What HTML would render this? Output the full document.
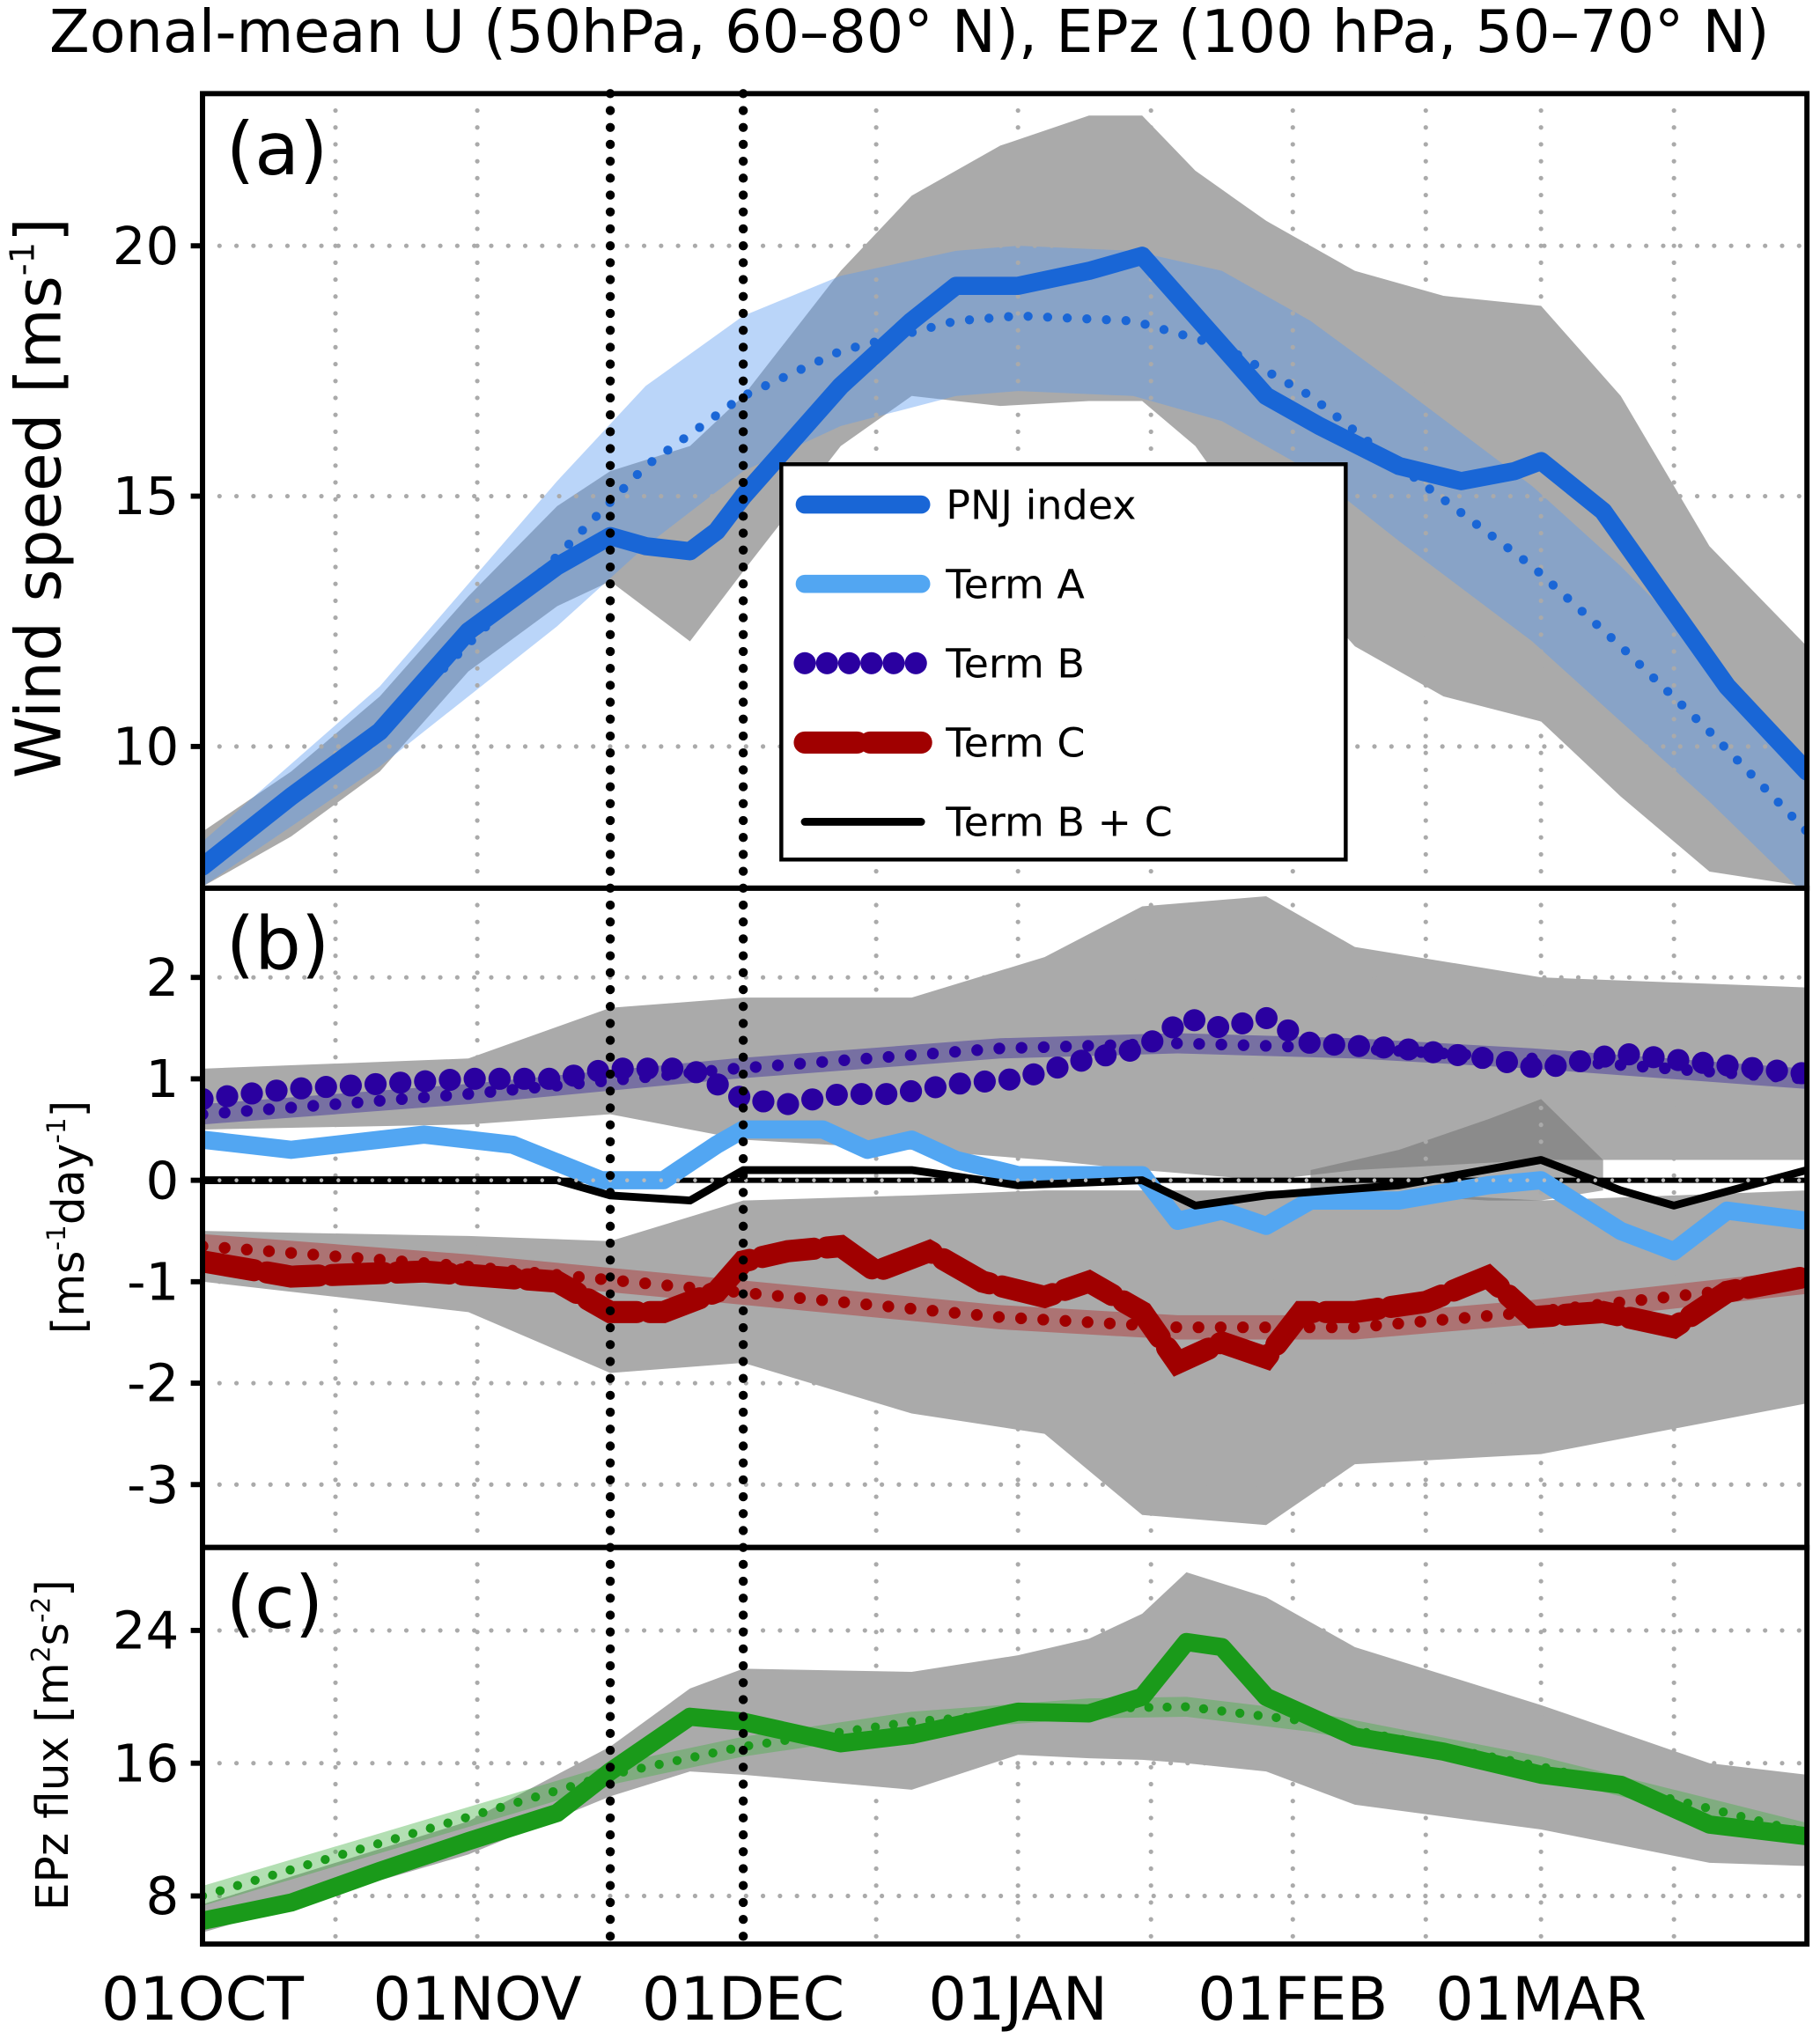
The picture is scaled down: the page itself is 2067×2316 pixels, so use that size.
<!DOCTYPE html>
<html><head><meta charset="utf-8"><style>
html,body{margin:0;padding:0;background:#fff;}
svg{display:block;font-family:"DejaVu Sans","Liberation Sans",sans-serif;}
</style></head><body>
<svg id="chart" width="2067" height="2316" viewBox="0 0 1393 1568" preserveAspectRatio="none" xmlns="http://www.w3.org/2000/svg">
<rect x="0" y="0" width="1393" height="1568" fill="#fff"/>
<text x="696" y="40" font-size="45" text-anchor="middle" fill="#000">Zonal-mean U (50hPa, 60–80° N), EPz (100 hPa, 50–70° N)</text>
<g id="layer"></g>
</svg>
<script>
// ---------- data ----------
const gridDays = [15,31,46,61,76,92,107,123,138,151,166];
const monthLabels = ["01OCT","01NOV","01DEC","01JAN","01FEB","01MAR"];
const monthDays = [0,31,61,92,123,151];
const eventDays = [46,61];

// panel a
const pnjDays = [0,10,20,30,40,46,50,55,58,61,66,72,80,85,92,100,106,112,120,126,135,142,148,151,158,166,172,181];
const pnjVals = [7.6,9.0,10.3,12.3,13.6,14.2,14.0,13.9,14.3,15.0,16.0,17.2,18.5,19.2,19.2,19.5,19.8,18.6,17.0,16.4,15.6,15.3,15.5,15.7,14.7,12.7,11.2,9.5];
const climDays = [0,20,40,50,61,72,85,92,105,115,125,135,150,160,170,181];
const climVals = [7.6,10.3,13.8,15.6,17.0,17.9,18.5,18.6,18.5,18.0,17.0,15.6,13.6,12.0,10.3,8.3];
const climUpper = [8.1,11.2,15.3,17.2,18.6,19.4,19.9,20.0,19.9,19.5,18.5,17.2,15.2,13.6,11.8,9.6];
const climLower = [7.2,9.6,12.4,14.0,15.5,16.4,17.0,17.1,17.0,16.5,15.5,14.1,12.1,10.5,8.9,7.0];
const grayADays = [0,10,20,30,40,46,55,61,72,80,90,100,106,112,120,130,140,151,160,170,181];
const grayAUp = [8.3,9.5,11,13,14.8,15.5,16,17,19.5,21,22,22.6,22.6,21.5,20.5,19.5,19,18.8,17,14,12];
const grayALo = [7.2,8.2,9.5,11.5,12.8,13.3,12.1,13.5,16,17,16.8,16.9,16.9,16,14,12,11,10.5,9,7.5,7.2];

// panel b
const bDays = [0,10,20,30,40,46,55,61,66,72,78,85,92,100,106,111,115,120,125,135,145,151,160,170,181];
const termB = [0.8,0.9,0.95,1.0,1.0,1.1,1.1,0.8,0.75,0.85,0.85,0.95,1.0,1.2,1.3,1.6,1.5,1.6,1.35,1.3,1.2,1.1,1.25,1.15,1.05];
const aDays = [0,10,25,35,45,52,58,61,70,75,80,85,92,100,106,110,115,120,125,135,145,151,160,166,172,181];
const termA = [0.4,0.3,0.45,0.35,0.0,0.0,0.35,0.5,0.5,0.3,0.4,0.2,0.05,0.05,0.05,-0.4,-0.3,-0.45,-0.2,-0.2,-0.05,0.0,-0.5,-0.7,-0.3,-0.4];
const bcDays = [0,20,40,46,55,61,80,92,106,112,120,135,151,160,166,181];
const termBC = [0,0.0,0.0,-0.15,-0.2,0.1,0.1,-0.05,0.0,-0.25,-0.15,-0.05,0.2,-0.1,-0.25,0.1];
const cDays = [0,10,25,40,46,52,58,61,66,72,76,82,88,95,100,106,110,115,120,124,130,138,145,150,158,166,172,181];
const termC = [-0.8,-0.95,-0.9,-1.0,-1.3,-1.3,-1.1,-0.8,-0.7,-0.65,-0.9,-0.7,-1.0,-1.15,-1.0,-1.3,-1.8,-1.6,-1.75,-1.3,-1.3,-1.2,-0.95,-1.35,-1.3,-1.45,-1.1,-0.95];
const climBDays = [0,30,60,90,110,130,150,181];
const climB = [0.65,0.85,1.1,1.3,1.35,1.3,1.2,1.0];
const climC = [-0.65,-0.85,-1.1,-1.35,-1.45,-1.45,-1.3,-1.0];
const grayBDays = [0,30,46,61,80,95,106,120,130,151,181];
const grayB1Up = [1.1,1.2,1.7,1.8,1.8,2.2,2.7,2.8,2.3,2.0,1.9];
const grayB1Lo = [0.5,0.55,0.65,0.4,0.3,0.2,0.1,0.0,0.1,0.2,0.2];
const grayB2Up = [-0.5,-0.55,-0.6,-0.2,-0.15,-0.1,-0.1,-0.1,-0.1,-0.2,-0.1];
const grayB2Lo = [-1.0,-1.3,-1.9,-1.8,-2.3,-2.5,-3.3,-3.4,-2.8,-2.7,-2.2];
const darkDays = [125,135,145,151,158];
const darkUp = [0.1,0.3,0.6,0.8,0.2];
const darkLo = [-0.1,-0.15,-0.2,-0.2,-0.1];

// panel c
const gDays = [0,10,20,30,40,46,55,61,72,80,92,100,106,111,115,120,130,140,151,160,170,181];
const epz = [6.5,7.6,9.5,11.3,13,15.5,18.8,18.5,17.2,17.7,19.1,19.0,20.0,23.3,23.0,20.0,17.6,16.7,15.3,14.7,12.3,11.6];
const epzClimDays = [0,46,61,80,100,111,125,151,181];
const epzClim = [8,15.3,17,18.5,19.3,19.4,18.5,15.8,11.8];
const grayCDays = [0,30,46,55,61,80,92,100,106,111,120,130,151,170,181];
const grayCUp = [7.5,12.5,17,20.5,21.7,21.5,22.5,23.5,25,27.5,26,23,19.5,16,15.3];
const grayCLo = [5.8,10.5,14,15.5,15.3,14.4,16.5,16.3,16.2,16,15.5,13.5,12,10,9.8];

const yTicksA = [10,15,20], yTicksB = [-3,-2,-1,0,1,2], yTicksC = [8,16,24];

// ---------- layout ----------
const L=155,R=1383,D0=0,D1=181;
const X = d => L + (d-D0)/(D1-D0)*(R-L);
const P = {
 a:{top:72,bot:683,min:7.17,max:23.04},
 b:{top:683,bot:1190,min:-3.62,max:2.88},
 c:{top:1190,bot:1495,min:5.1,max:29.0}
};
const Y = (p,v) => P[p].bot - (v-P[p].min)/(P[p].max-P[p].min)*(P[p].bot-P[p].top);
const NS="http://www.w3.org/2000/svg";
const layer=document.getElementById('layer');
function mk(tag,attrs,parent){const e=document.createElementNS(NS,tag);for(const k in attrs)e.setAttribute(k,attrs[k]);(parent||layer).appendChild(e);return e;}
function linePath(p,days,vals){return days.map((d,i)=>(i?'L':'M')+X(d).toFixed(1)+','+Y(p,vals[i]).toFixed(1)).join('');}
function bandPath(p,days,up,lo){let s=linePath(p,days,up);for(let i=days.length-1;i>=0;i--)s+='L'+X(days[i]).toFixed(1)+','+Y(p,lo[i]).toFixed(1);return s+'Z';}

const defs=mk('defs',{});
['a','b','c'].forEach(p=>{const c=mk('clipPath',{id:'clip'+p},defs);mk('rect',{x:L,y:P[p].top,width:R-L,height:P[p].bot-P[p].top},c);});

function grid(p,ticks,g){
 const gg=mk('g',{},g);
 
 
 gridDays.forEach(d=>mk('line',{x1:X(d),x2:X(d),y1:P[p].top,y2:P[p].bot,stroke:'#aaa','stroke-width':3.5,'stroke-dasharray':'0 13','stroke-linecap':'round'},gg));
 ticks.forEach(t=>mk('line',{x1:L,x2:R,y1:Y(p,t),y2:Y(p,t),stroke:'#aaa','stroke-width':3.5,'stroke-dasharray':'0 13','stroke-linecap':'round'},gg));
}

// ===== Panel A =====
let g=mk('g',{'clip-path':'url(#clipa)'});
let e;
e=mk('path',{d:bandPath('a',grayADays,grayAUp,grayALo),fill:'#aaaaaa'},g);


e=mk('path',{d:bandPath('a',climDays,climUpper,climLower),fill:'#5b9cf0','fill-opacity':0.42},g);


grid('a',yTicksA,g);
e=mk('path',{d:linePath('a',climDays,climVals),fill:'none',stroke:'#1a66d6','stroke-width':7,'stroke-dasharray':'0 15','stroke-linecap':'round'},g);


e=mk('path',{d:linePath('a',pnjDays,pnjVals),fill:'none',stroke:'#1966d6','stroke-width':14,'stroke-linejoin':'round','stroke-linecap':'round'},g);



// ===== Panel B =====
g=mk('g',{'clip-path':'url(#clipb)'});
e=mk('path',{d:bandPath('b',grayBDays,grayB1Up,grayB1Lo),fill:'#aaaaaa'},g);


e=mk('path',{d:bandPath('b',grayBDays,grayB2Up,grayB2Lo),fill:'#aaaaaa'},g);


e=mk('path',{d:bandPath('b',darkDays,darkUp,darkLo),fill:'#777','fill-opacity':0.6},g);


grid('b',yTicksB,g);
e=mk('path',{d:bandPath('b',climBDays,climB.map(v=>v+0.1),climB.map(v=>v-0.1)),fill:'#3a2a9a','fill-opacity':0.45},g);


e=mk('path',{d:bandPath('b',climBDays,climC.map(v=>v+0.12),climC.map(v=>v-0.12)),fill:'#b02020','fill-opacity':0.4},g);


e=mk('path',{d:linePath('b',climBDays,climB),fill:'none',stroke:'#2a00a0','stroke-width':9,'stroke-dasharray':'0 17','stroke-linecap':'round'},g);


e=mk('path',{d:linePath('b',climBDays,climC),fill:'none',stroke:'#a00000','stroke-width':9,'stroke-dasharray':'0 17','stroke-linecap':'round'},g);


e=mk('line',{x1:L,x2:R,y1:Y('b',0),y2:Y('b',0),stroke:'#000','stroke-width':4},g);


e=mk('path',{d:linePath('b',aDays,termA),fill:'none',stroke:'#52a6f2','stroke-width':14,'stroke-linejoin':'round','stroke-linecap':'round'},g);


e=mk('path',{d:linePath('b',bcDays,termBC),fill:'none',stroke:'#000','stroke-width':6,'stroke-linejoin':'round'},g);


e=mk('line',{x1:L,x2:R,y1:Y('b',0),y2:Y('b',0),stroke:'#bbb','stroke-width':3,'stroke-dasharray':'0 13','stroke-linecap':'round'},g);


e=mk('path',{d:linePath('b',bDays,termB),fill:'none',stroke:'#2a00a0','stroke-width':17,'stroke-dasharray':'0 19','stroke-linecap':'round'},g);


e=mk('path',{d:linePath('b',cDays,termC),fill:'none',stroke:'#a00000','stroke-width':17,'stroke-dasharray':'40 10','stroke-linecap':'round'},g);



// ===== Panel C =====
g=mk('g',{'clip-path':'url(#clipc)'});
e=mk('path',{d:bandPath('c',grayCDays,grayCUp,grayCLo),fill:'#aaaaaa'},g);


grid('c',yTicksC,g);
e=mk('path',{d:bandPath('c',epzClimDays,epzClim.map(v=>v+0.6),epzClim.map(v=>v-0.6)),fill:'#40b040','fill-opacity':0.4},g);


e=mk('path',{d:linePath('c',epzClimDays,epzClim),fill:'none',stroke:'#1a9a1a','stroke-width':7,'stroke-dasharray':'0 14','stroke-linecap':'round'},g);


e=mk('path',{d:linePath('c',gDays,epz),fill:'none',stroke:'#1a9a1a','stroke-width':14,'stroke-linejoin':'round','stroke-linecap':'round'},g);



// left dotted axis line
e=mk('line',{x1:L,x2:L,y1:P.a.top,y2:P.c.bot,stroke:'#aaa','stroke-width':3,'stroke-dasharray':'0 10','stroke-linecap':'round'});



function axes(p,ticks){
 const f=mk('rect',{x:L,y:P[p].top,width:R-L,height:P[p].bot-P[p].top,fill:'none',stroke:'#000','stroke-width':4});
 
 
 ticks.forEach(t=>{
  const y=Y(p,t);
  mk('line',{x1:L-9,x2:L,y1:y,y2:y,stroke:'#000','stroke-width':4});
  const tx=mk('text',{x:L-18,y:y+14,'font-size':40,'text-anchor':'end',fill:'#000'});
  tx.textContent=String(t);
  
  
 });
 const pl=mk('text',{x:173,y:P[p].top+62,'font-size':56,fill:'#000'});
 pl.textContent='('+p+')';
 
 
}

// legend
const lg=mk('g',{});


mk('rect',{x:598,y:357,width:432,height:304,fill:'#fff',stroke:'#000','stroke-width':3},lg);
const items=[["PNJ index",'#1966d6',14,null],["Term A",'#52a6f2',14,null],["Term B",'#2a00a0',17,'0 17'],["Term C",'#a00000',17,'40 10'],["Term B + C",'#000',6,null]];
items.forEach((it,i)=>{
 const y=388+i*61;
 const ln=mk('line',{x1:616,x2:705,y1:y,y2:y,stroke:it[1],'stroke-width':it[2],'stroke-linecap':'round'},lg);
 if(it[3])ln.setAttribute('stroke-dasharray',it[3]);
 const t=mk('text',{x:724,y:y+11,'font-size':31,fill:'#000'},lg);
 t.textContent=it[0];
 
 
});

// event lines
eventDays.forEach((d,i)=>{
 const l=mk('line',{x1:X(d),x2:X(d),y1:P.a.top,y2:P.c.bot,stroke:'#000','stroke-width':7,'stroke-dasharray':'0 13','stroke-linecap':'round'});
 
 
});

axes('a',yTicksA);axes('b',yTicksB);axes('c',yTicksC);

e=mk('text',{x:0,y:0,'font-size':48,'text-anchor':'middle',transform:'translate(46,383) rotate(-90)'});
e.innerHTML='Wind speed [ms<tspan font-size="26" dy="-20">-1</tspan><tspan dy="20">]</tspan>';


e=mk('text',{x:0,y:0,'font-size':34,'text-anchor':'middle',transform:'translate(64,936) rotate(-90)'});
e.innerHTML='[ms<tspan font-size="20" dy="-14">-1</tspan><tspan dy="14">day</tspan><tspan font-size="20" dy="-14">-1</tspan><tspan dy="14">]</tspan>';


e=mk('text',{x:0,y:0,'font-size':34,'text-anchor':'middle',transform:'translate(52,1342) rotate(-90)'});
e.innerHTML='EPz flux [m<tspan font-size="20" dy="-14">2</tspan><tspan dy="14">s</tspan><tspan font-size="20" dy="-14">-2</tspan><tspan dy="14">]</tspan>';



monthDays.forEach((d,i)=>{
 const t=mk('text',{x:X(d),y:1553,'font-size':46,'text-anchor':'middle',fill:'#000'});
 t.textContent=monthLabels[i];
 
 
});
</script>
</body></html>
